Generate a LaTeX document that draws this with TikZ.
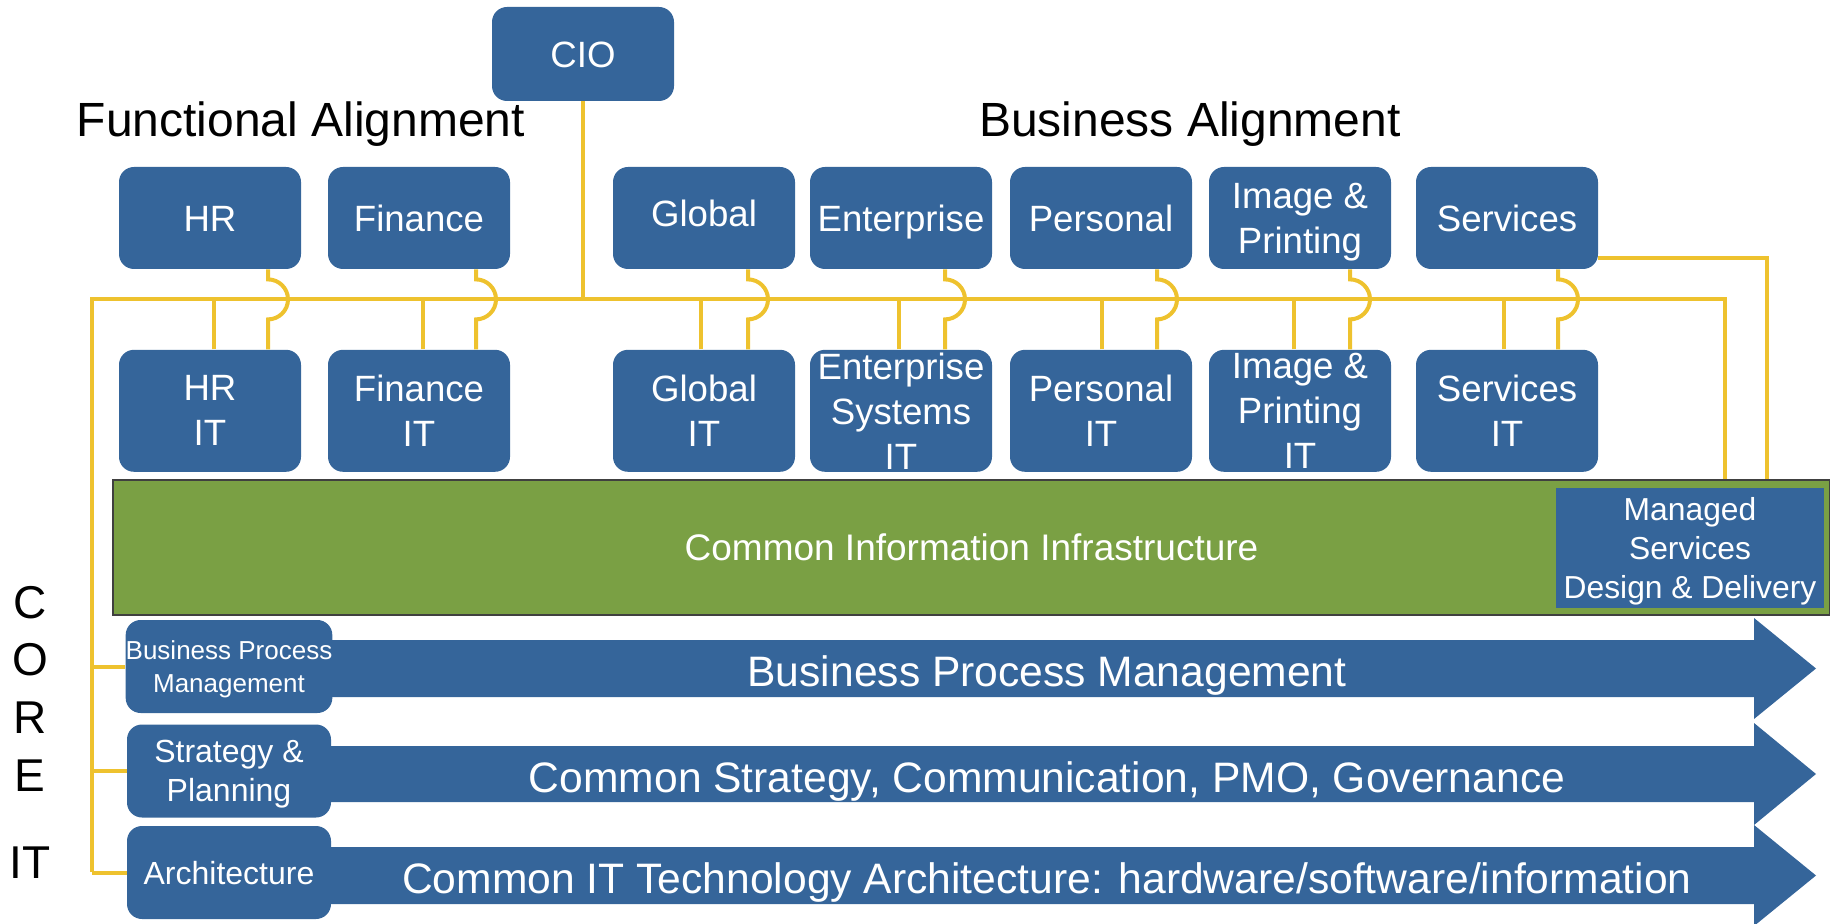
\documentclass[tikz,border=0pt]{standalone}
\usepackage{fontspec}
\setmainfont{Liberation Sans}
\usetikzlibrary{positioning}
\definecolor{boxblue}{RGB}{53,101,154}
\definecolor{wireyellow}{RGB}{238,194,46}
\definecolor{infragreen}{RGB}{122,160,68}

\begin{document}
\begin{tikzpicture}[x=0.5pt,y=-0.5pt,
		unitbox/.style={rectangle,rounded corners=7.5pt,fill=boxblue,text=white,align=center,
			minimum width=91pt,minimum height=51pt,inner sep=0pt,font=\fontsize{18.3}{22.5}\selectfont},
		oneline/.style={unitbox,text height=13.1pt,text depth=0pt},
		itbox/.style={unitbox,minimum height=61pt},
		corebox/.style={unitbox,minimum width=102pt,minimum height=46.5pt,text depth=0pt,
			font=\fontsize{16}{19.3}\selectfont},
		bandtext/.style={text=white,inner sep=0pt,text height=15.3pt,text depth=0pt,
			font=\fontsize{21.3}{25}\selectfont},
		heading/.style={anchor=base,inner sep=0pt,font=\fontsize{24}{28}\selectfont},
		coreletter/.style={inner sep=0pt,font=\fontsize{23}{26}\selectfont},
		wire/.style={draw=wireyellow,line width=2pt}
		]
		\useasboundingbox (0,0) rectangle (1830,924);
		
		% headings
		\node[heading](FA) at (301,137){Functional Alignment};
		\node[heading](BA) at (1190,137){Business Alignment};
		\foreach \l/\y in {C/603,O/660,R/718,E/776,IT/863}
		\node[coreletter](core\l) at (30,\y){\l};
		
		% top row
		\node[oneline, minimum height=47pt](CIO) at (583,54){CIO};
		\node[oneline](HR) at (210,218){HR};
		\node[oneline](Fin) at (419,218){Finance};
		\node[oneline, text depth=5pt](Glob) at (704,218){Global};
		\node[oneline](Ent) at (901,218){Enterprise};
		\node[oneline](Pers) at (1101,218){Personal};
		\node[unitbox, text depth=0pt](Img) at (1300,218){Image \&\\Printing};
		\node[oneline](Serv) at (1507,218){Services};
		
		% IT row
		\node[itbox, below=40pt of HR](HRIT){HR\\IT};
		\node[itbox, below=40pt of Fin](FinIT){Finance\\IT};
		\node[itbox, below=40pt of Glob](GlobIT){Global\\IT};
		\node[itbox, below=40pt of Ent](EntIT){Enterprise\\Systems\\IT};
		\node[itbox, below=40pt of Pers](PersIT){Personal\\IT};
		\node[itbox, below=40pt of Img](ImgIT){Image \&\\Printing\\IT};
		\node[itbox, below=40pt of Serv](ServIT){Services\\IT};
		
		% infrastructure
		\node[rectangle, draw=black!75, line width=1pt, fill=infragreen, text=white, inner sep=0pt,
		minimum width=858.5pt, minimum height=67.5pt, font=\fontsize{18.5}{22}\selectfont]
		(CII) at (971.5,547.5){Common Information Infrastructure};
		\node[rectangle, fill=boxblue, text=white, align=center, inner sep=0pt, text depth=0pt,
		minimum width=134pt, minimum height=60pt, font=\fontsize{15.9}{19.4}\selectfont]
		(MSDD) at (1690,548){Managed\\Services\\Design \& Delivery};
		
		% core arrows
		\fill[boxblue] (278,640) -- (1754,640) -- (1754,618) -- (1816,668.5) -- (1754,719) -- (1754,697) -- (278,697) -- cycle;
		\fill[boxblue] (278,746) -- (1754,746) -- (1754,723) -- (1816,774) -- (1754,825) -- (1754,802) -- (278,802) -- cycle;
		\fill[boxblue] (278,847) -- (1754,847) -- (1754,825) -- (1816,875.5) -- (1754,926) -- (1754,904) -- (278,904) -- cycle;
		\node[bandtext](BPMtxt) at (1047,671.5){Business Process Management};
		\node[bandtext](SPLtxt) at (1047,777){Common Strategy, Communication, PMO, Governance};
		\node[bandtext](ARCHtxt) at (1047,878.5){Common IT Technology Architecture: hardware/software/information};
		
		\node[corebox, font=\fontsize{13}{16.3}\selectfont](BPM) at (229,666.5){Business Process\\Management};
		\node[corebox](SPL) at (229,771){Strategy \&\\Planning};
		\node[corebox](ARCH) at (229,872.5){Architecture};
		
		% wires
		\coordinate (busL) at (92,299);
		\coordinate (busR) at (1725,299);
		\coordinate (coreB) at (92,872);
		\coordinate (svcR) at (1767,258);
		
		\draw[wire] (coreB) -- (busL) -- (busR) -- (busR |- CII.north);
		\draw[wire] (CIO.south) -- (CIO.south |- busL);
		\draw[wire] (Serv.east |- svcR) -- (svcR) -- (svcR |- CII.north);
		\foreach \dept/\dx/\jx in {HR/2/29,Fin/2/28.5,Glob/-1.5/22,Ent/-1/22,Pers/0.5/28,Img/-3/25,Serv/-1.5/25.5}{
			\draw[wire] ([xshift=\dx pt]\dept IT.north) -- ([xshift=\dx pt]\dept IT.north |- busL);
			\draw[wire] ([xshift=\jx pt]\dept.south) coordinate (j\dept) -- ++(0,-5pt)
			arc[start angle=90,end angle=-90,radius=10pt] -- (j\dept |- \dept IT.north);
		}
		\foreach \c in {BPM,SPL,ARCH}
		\draw[wire] (\c.west -| busL) -- (\c.west);
	\end{tikzpicture}
\end{document}
